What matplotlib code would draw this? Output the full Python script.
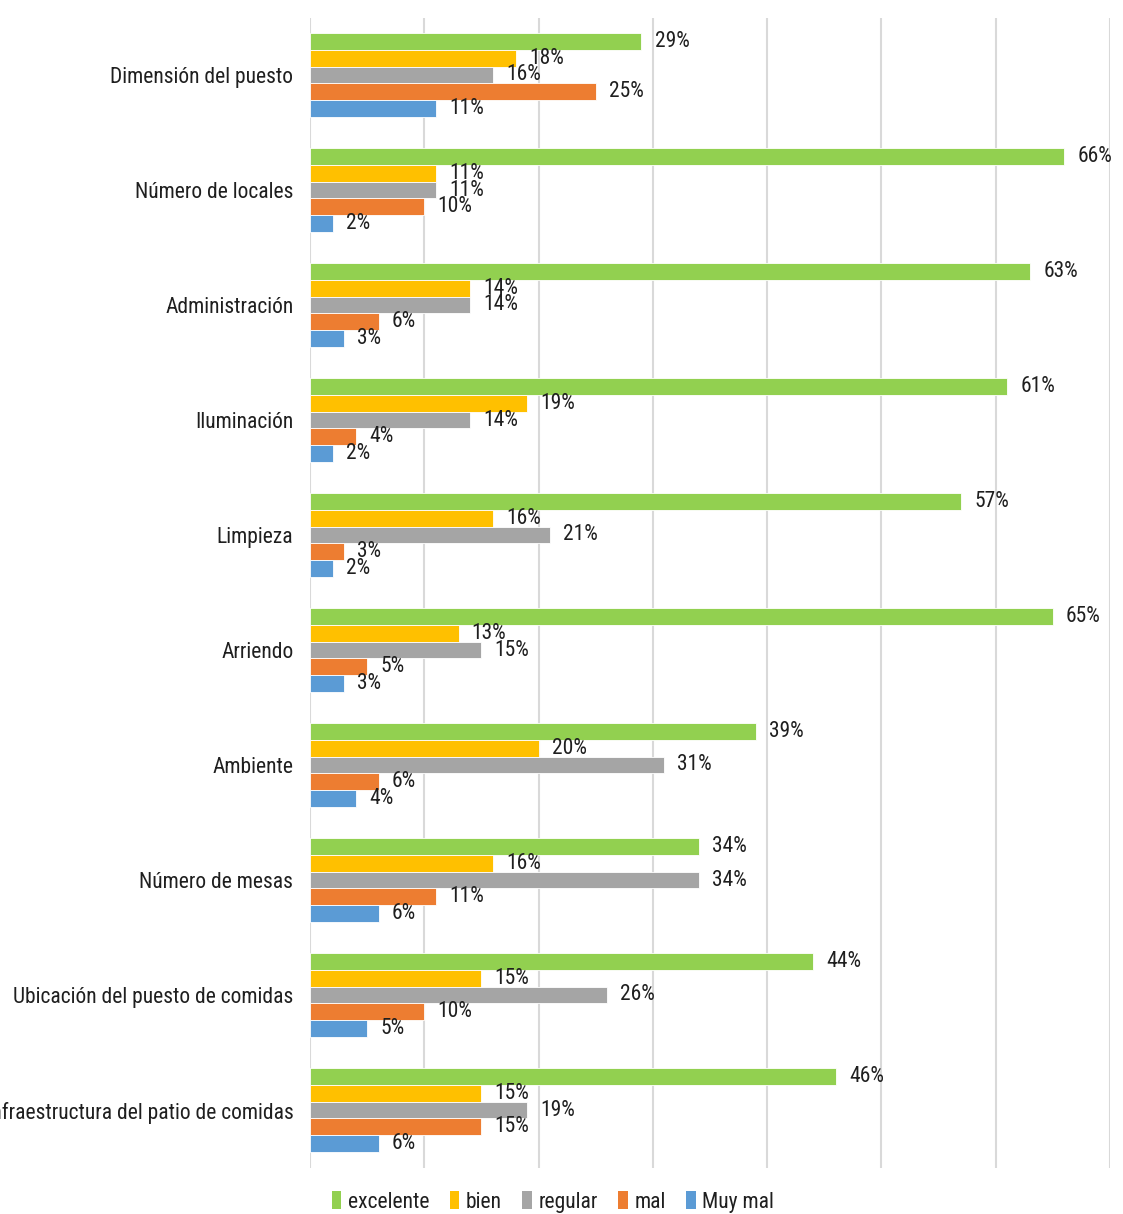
import matplotlib
matplotlib.use("Agg")
import matplotlib.pyplot as plt
from matplotlib import font_manager
from matplotlib.patches import Patch
import numpy as np

categories = [
    "Dimensión del puesto",
    "Número de locales",
    "Administración",
    "Iluminación",
    "Limpieza",
    "Arriendo",
    "Ambiente",
    "Número de mesas",
    "Ubicación del puesto de comidas",
    "Infraestructura del patio de comidas",
]
series_names = ["excelente", "bien", "regular", "mal", "Muy mal"]
excelente = [29, 66, 63, 61, 57, 65, 39, 34, 44, 46]
bien = [18, 11, 14, 19, 16, 13, 20, 16, 15, 15]
regular = [16, 11, 14, 14, 21, 15, 31, 34, 26, 19]
mal = [25, 10, 6, 4, 3, 5, 6, 11, 10, 15]
muy_mal = [11, 2, 3, 2, 2, 3, 4, 6, 5, 6]
x_ticks = [0, 10, 20, 30, 40, 50, 60, 70]

colors = ["#92D050", "#FFC000", "#A5A5A5", "#ED7D31", "#5B9BD5"]
text_color = "#1f1f1f"

# pick a narrow face if one is installed
available = {f.name for f in font_manager.fontManager.ttflist}
family = "Liberation Sans"
size = 13.5
for cand in ["Liberation Sans Narrow", "DejaVu Sans Condensed", "Roboto Condensed"]:
    if cand in available:
        family = cand
        size = 15.5
        break
plt.rcParams["font.family"] = [family, "DejaVu Sans"]
plt.rcParams["font.size"] = size

fig = plt.figure(figsize=(11.23, 12.14), dpi=100)
ax = fig.add_axes([310 / 1123, 1 - 1167.5 / 1214, 800 / 1123, 1150 / 1214])

values = [excelente, bien, regular, mal, muy_mal]
n = len(categories)
y = np.arange(n)
h = 0.147
for j, (vals, col) in enumerate(zip(values, colors)):
    pos = y + (j - 2) * h
    bars = ax.barh(pos, vals, height=h, color=col, edgecolor="white",
                   linewidth=0.6, zorder=3, label=series_names[j])
    ax.bar_label(bars, labels=[f"{v}%" for v in vals], padding=9.5,
                 color=text_color, fontsize=size, clip_on=False, zorder=4)

ax.set_xlim(0, 70)
ax.set_xticks(x_ticks)
ax.set_xticklabels([])
ax.tick_params(axis="x", length=0)
ax.grid(axis="x", color="#D9D9D9", linewidth=1.5, zorder=0)
ax.set_ylim(n - 0.5, -0.5)
ax.set_yticks(y)
ax.set_yticklabels(categories, color=text_color)
ax.tick_params(axis="y", length=0, pad=12)
for s in ax.spines.values():
    s.set_visible(False)

handles = [Patch(facecolor=c, edgecolor="none") for c in colors]
fig.legend(handles, series_names, loc="center", ncol=5, frameon=False,
           bbox_to_anchor=(553 / 1123, 1 - 1202 / 1214),
           handletextpad=0.3, columnspacing=0.95, handlelength=0.45,
           handleheight=0.85, labelcolor=text_color, fontsize=size)

fig.savefig("out.png", dpi=100)
